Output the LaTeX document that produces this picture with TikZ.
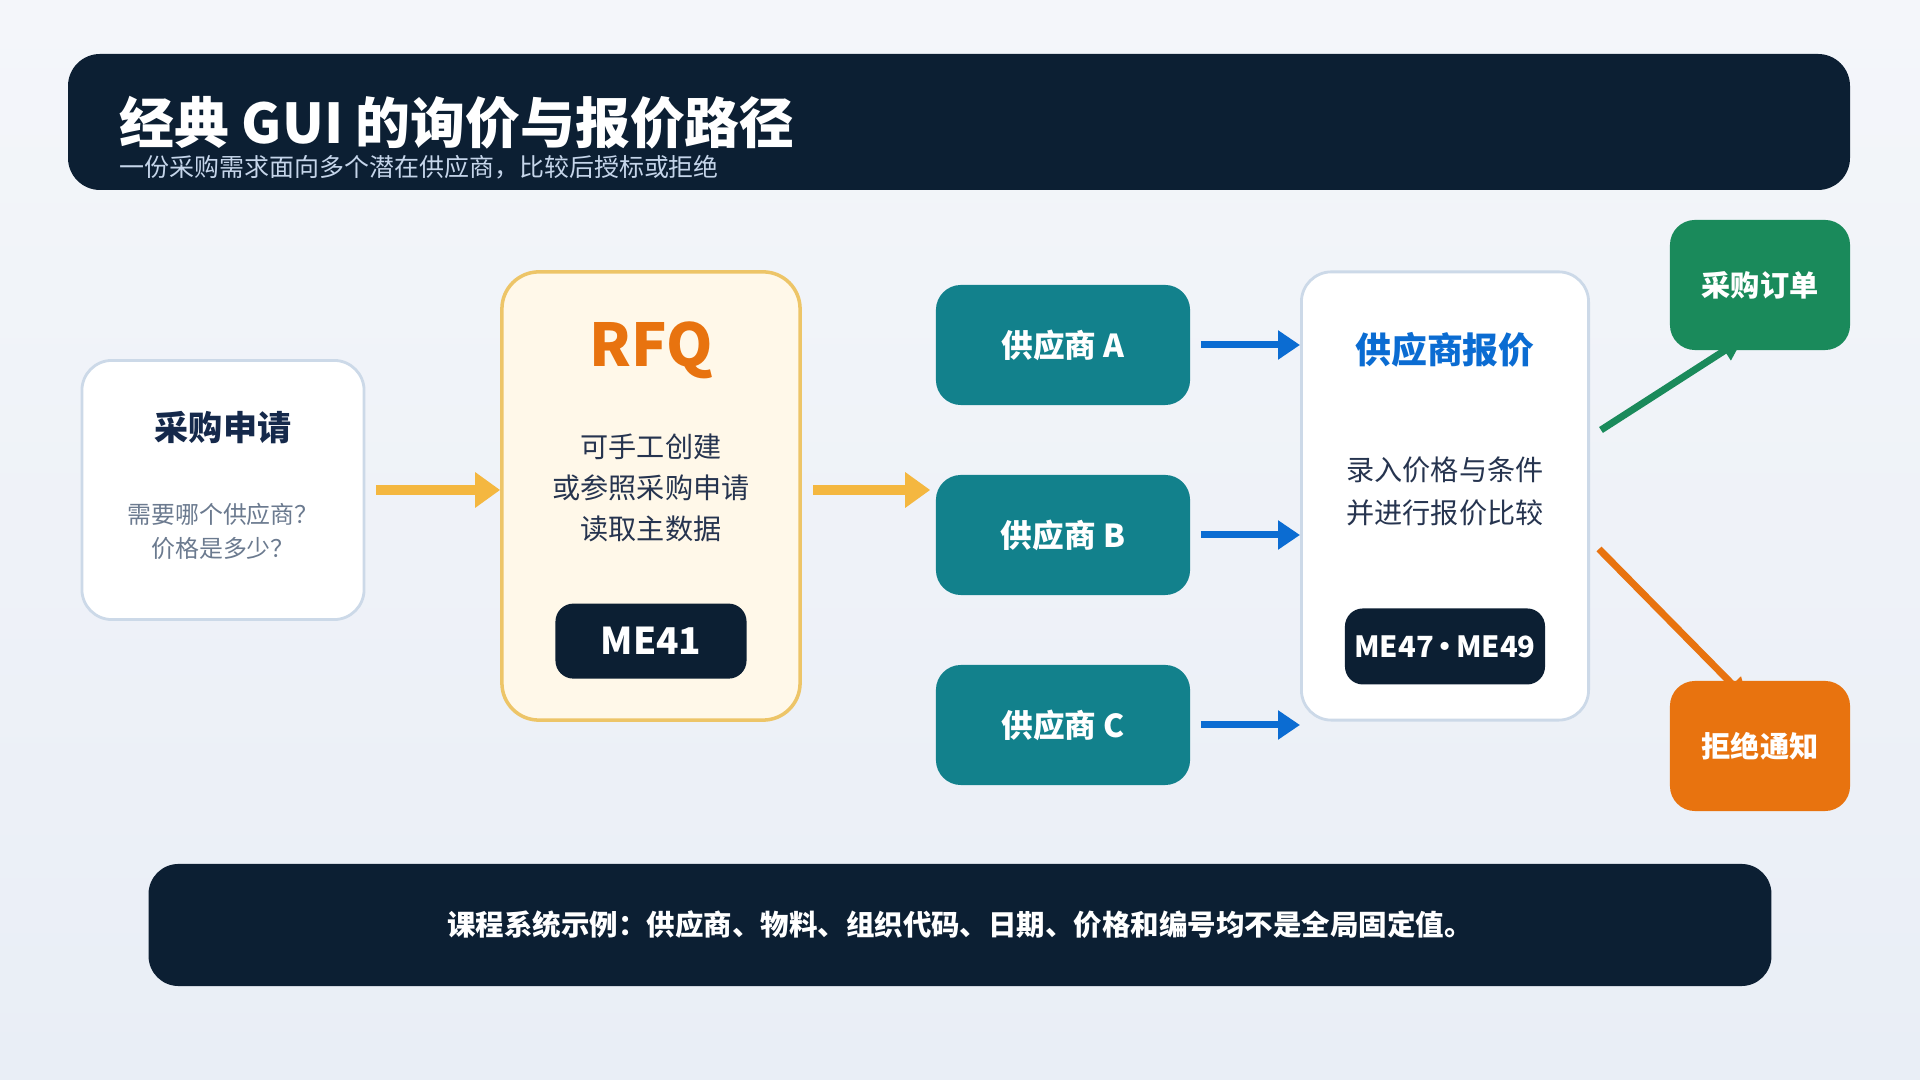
\documentclass[tikz,border=0pt]{standalone}
\usepackage{fontspec}
\setmainfont{Noto Sans CJK SC}
\usetikzlibrary{calc,arrows.meta,positioning}

\definecolor{navy}{HTML}{0C1F33}
\definecolor{ink}{HTML}{15294B}
\definecolor{bodyink}{HTML}{26344F}
\definecolor{mute}{HTML}{6B7A8F}
\definecolor{subtl}{HTML}{C5D5EA}
\definecolor{cardline}{HTML}{CCD9E8}
\definecolor{cream}{HTML}{FFF8E9}
\definecolor{gold}{HTML}{EDC568}
\definecolor{amber}{HTML}{F4B740}
\definecolor{rust}{HTML}{E8730F}
\definecolor{teal}{HTML}{12818C}
\definecolor{azure}{HTML}{0B6CD2}
\definecolor{leaf}{HTML}{1A8A5B}
\definecolor{bgtop}{HTML}{F4F6FA}
\definecolor{bgbot}{HTML}{E9EEF6}

\pgfdeclarelayer{bg}
\pgfsetlayers{bg,main}

\begin{document}
\begin{tikzpicture}[x=0.01cm, y=-0.01cm,
    card/.style={draw=cardline, line width=0.8pt, fill=white, rounded corners=0.3cm},
    badge/.style={fill=navy, rounded corners=0.18cm, text=white, inner sep=1pt, font=\fontsize{10.5}{12}\selectfont\bfseries},
    vendor/.style={fill=teal, rounded corners=0.25cm, minimum width=2.54cm, minimum height=1.2cm,
        text=white, font=\fontsize{9}{11}\selectfont\bfseries},
    outcome/.style={rounded corners=0.25cm, minimum width=1.8cm, minimum height=1.3cm,
        text=white, font=\fontsize{8.3}{10}\selectfont\bfseries},
    flow/.style={amber, line width=0.1cm, -{Triangle[length=0.25cm, width=0.34cm]}},
    feed/.style={azure, line width=0.07cm, -{Triangle[length=0.22cm, width=0.28cm]}},
    verdict/.style={line width=0.07cm, -{Triangle[length=0.22cm, width=0.22cm]}},
    body/.style={text=bodyink, align=center, font=\fontsize{8}{11.7}\selectfont},
    label/.style={inner sep=0pt},
]
        \useasboundingbox (0,0) rectangle (1920,1080);
        \begin{pgfonlayer}{bg}
        \fill[top color=bgtop, bottom color=bgbot] (0,0) rectangle (1920,1080);
        \end{pgfonlayer}

        % header
        \fill[navy, rounded corners=0.32cm] (68,54) rectangle (1850,190);
        \node[label, anchor=west, text=white, font=\fontsize{15.6}{18}\selectfont\bfseries] (title) at (119,123) {经典 GUI 的询价与报价路径};
        \node[label, anchor=west, text=subtl, font=\fontsize{7.1}{8}\selectfont] (subtitle) at (119,167) {一份采购需求面向多个潜在供应商，比较后授标或拒绝};

        % purchase requisition
        \node[card, minimum width=2.82cm, minimum height=2.59cm] (req) at (223,490) {};
        \node[label, text=ink, font=\fontsize{9.7}{11}\selectfont\bfseries] (reqhead) at ($(req.north)+(0,69)$) {采购申请};
        \node[label, text=mute, align=center, font=\fontsize{6.8}{9.7}\selectfont] (reqtext) at ($(req.north)+(0,172)$) {需要哪个供应商？\\价格是多少？};

        % RFQ
        \node[card, draw=gold, fill=cream, line width=1pt, rounded corners=0.37cm, minimum width=2.98cm, minimum height=4.48cm] (rfq) at (651,496) {};
        \node[label, text=rust, font=\fontsize{16.8}{19}\selectfont\bfseries] (rfqhead) at ($(rfq.north)+(0,80)$) {RFQ};
        \node[label, body] (rfqtext) at ($(rfq.north)+(0,218)$) {可手工创建\\或参照采购申请\\读取主数据};
        \node[badge, minimum width=1.91cm, minimum height=0.75cm] (me41) at ($(rfq.north)+(0,371)$) {ME41};

        % vendors
        \node[vendor] (vendA) at (1063,345) {供应商 A};
        \node[vendor] (vendB) at (1063,535) {供应商 B};
        \node[vendor] (vendC) at (1063,725) {供应商 C};

        % quotations
        \node[card, minimum width=2.87cm, minimum height=4.48cm] (quote) at (1445,496) {};
        \node[label, text=azure, font=\fontsize{10.2}{12}\selectfont\bfseries] (quotehead) at ($(quote.north)+(0,79)$) {供应商报价};
        \node[label, body, font=\fontsize{8}{12.2}\selectfont] (quotetext) at ($(quote.north)+(0,221)$) {录入价格与条件\\并进行报价比较};
        \node[badge, minimum width=2cm, minimum height=0.76cm, font=\fontsize{8.3}{10}\selectfont\bfseries] (me47) at ($(quote.north)+(0,376)$) {ME47\kern-1pt•\kern-1pt ME49};

        % award or reject
        \node[outcome, fill=leaf] (po) at (1760,285) {采购订单};
        \node[outcome, fill=rust] (rej) at (1760,746) {拒绝通知};

        \node[fill=navy, rounded corners=0.3cm, minimum width=16.22cm, minimum height=1.22cm,
            text=white, font=\fontsize{8.1}{10}\selectfont\bfseries] (note) at (960,925)
            {课程系统示例：供应商、物料、组织代码、日期、价格和编号均不是全局固定值。};

        % arrows
        \draw[flow, shorten <=0.11cm] (req.east) -- (req.east -| rfq.west);
        \draw[flow, shorten <=0.11cm, shorten >=0.05cm] (req.east -| rfq.east) -- (req.east -| vendB.west);
        \foreach \v in {vendA,vendB,vendC}
            \draw[feed, shorten <=0.1cm] (\v.east) -- (\v.east -| quote.west);
        \begin{pgfonlayer}{bg}
        \draw[verdict, leaf] ($(quote.east)+(11,-66)$) -- ($(po.south)+(-17,-12)$);
        \draw[verdict, rust] ($(quote.east)+(9,53)$) -- ($(rej.north)+(-12,20)$);
        \end{pgfonlayer}
\end{tikzpicture}
\end{document}
